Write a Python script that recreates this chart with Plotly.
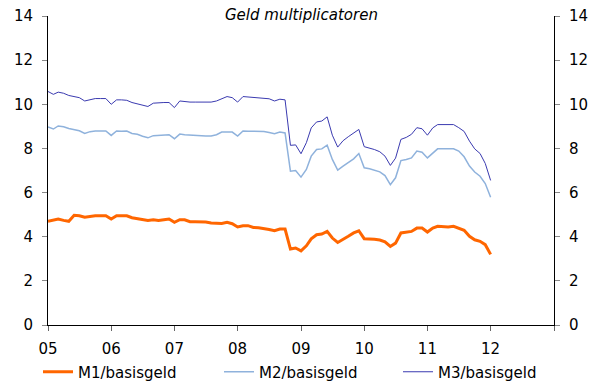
import plotly.graph_objects as go
import pandas as pd

months = pd.date_range("2005-01-01", periods=85, freq="MS")

m1 = [4.70, 4.77, 4.80, 4.74, 4.70, 4.97, 4.95, 4.88, 4.92, 4.95, 4.95, 4.95,
      4.80, 4.95, 4.95, 4.95, 4.86, 4.82, 4.78, 4.74, 4.77, 4.74, 4.77, 4.80,
      4.65, 4.77, 4.77, 4.68, 4.68, 4.67, 4.67, 4.62, 4.60, 4.60, 4.65, 4.59,
      4.44, 4.50, 4.50, 4.42, 4.41, 4.38, 4.33, 4.27, 4.35, 4.35, 3.44, 3.49,
      3.36, 3.59, 3.90, 4.09, 4.12, 4.24, 3.94, 3.74, 3.90, 4.02, 4.17, 4.27,
      3.91, 3.91, 3.88, 3.85, 3.77, 3.56, 3.71, 4.17, 4.20, 4.24, 4.39, 4.39,
      4.21, 4.39, 4.47, 4.45, 4.44, 4.47, 4.39, 4.29, 4.02, 3.86, 3.79, 3.64,
      3.20]

m2 = [8.97, 8.88, 9.02, 8.98, 8.90, 8.85, 8.80, 8.68, 8.76, 8.79, 8.79, 8.79,
      8.59, 8.79, 8.78, 8.79, 8.68, 8.64, 8.55, 8.48, 8.58, 8.60, 8.62, 8.62,
      8.44, 8.65, 8.62, 8.60, 8.60, 8.58, 8.56, 8.56, 8.62, 8.74, 8.75, 8.74,
      8.56, 8.79, 8.78, 8.77, 8.77, 8.77, 8.72, 8.67, 8.74, 8.70, 6.97, 7.00,
      6.70, 7.05, 7.65, 7.95, 7.98, 8.15, 7.50, 7.02, 7.20, 7.35, 7.53, 7.77,
      7.12, 7.08, 7.00, 6.94, 6.77, 6.36, 6.67, 7.45, 7.50, 7.57, 7.88, 7.83,
      7.57, 7.80, 7.98, 7.98, 7.98, 7.98, 7.88, 7.62, 7.20, 6.93, 6.74, 6.41,
      5.79]

m3 = [10.58, 10.45, 10.55, 10.50, 10.40, 10.35, 10.30, 10.15, 10.22, 10.26, 10.26, 10.26,
      10.00, 10.20, 10.20, 10.18, 10.08, 10.02, 9.95, 9.90, 10.05, 10.08, 10.08, 10.08,
      9.85, 10.15, 10.12, 10.10, 10.10, 10.10, 10.10, 10.10, 10.15, 10.25, 10.35, 10.30,
      10.10, 10.35, 10.33, 10.32, 10.30, 10.30, 10.25, 10.15, 10.23, 10.20, 8.14, 8.16,
      7.76, 8.26, 8.93, 9.20, 9.24, 9.43, 8.60, 8.06, 8.35, 8.53, 8.70, 8.86,
      8.08, 8.03, 7.95, 7.85, 7.65, 7.23, 7.56, 8.41, 8.50, 8.64, 8.94, 8.89,
      8.60, 8.93, 9.08, 9.08, 9.08, 9.08, 8.94, 8.77, 8.33, 7.98, 7.77, 7.32,
      6.55]

year_ticks = ["2005-01-01", "2006-01-01", "2007-01-01", "2008-01-01", "2009-01-01",
              "2010-01-01", "2011-01-01", "2012-01-01", "2013-01-01"]
year_labels = ["05", "06", "07", "08", "09", "10", "11", "12", ""]
y_ticks = [0, 2, 4, 6, 8, 10, 12, 14]

font = "DejaVu Sans, Verdana, sans-serif"
W, H = 600, 383

fig = go.Figure()
fig.add_trace(go.Scatter(x=months, y=m1, mode="lines", name="M1/basisgeld",
                         line=dict(color="#FF6600", width=3), legend="legend"))
fig.add_trace(go.Scatter(x=months, y=m2, mode="lines", name="M2/basisgeld",
                         line=dict(color="#8FB2DC", width=1.5), legend="legend2"))
fig.add_trace(go.Scatter(x=months, y=m3, mode="lines", name="M3/basisgeld",
                         line=dict(color="#3A3AB0", width=1), legend="legend3"))
fig.add_trace(go.Scatter(x=[months[0]], y=[0], yaxis="y2", mode="markers",
                         marker=dict(opacity=0), showlegend=False, hoverinfo="skip"))


def leg(xpx):
    return dict(orientation="h", x=xpx / W, xanchor="left", xref="container",
                y=(H - 372) / H, yanchor="middle", yref="container",
                font=dict(size=15), itemwidth=30, bgcolor="rgba(0,0,0,0)")


fig.update_layout(
    width=W, height=H,
    margin=dict(l=48, r=46, t=16, b=58, autoexpand=False),
    paper_bgcolor="white", plot_bgcolor="white",
    font=dict(family=font, size=15, color="black"),
    showlegend=True,
    legend=leg(38), legend2=leg(219), legend3=leg(398),
    xaxis=dict(type="date", range=["2005-01-01", "2013-01-01"],
               tickmode="array", tickvals=year_ticks, ticktext=year_labels,
               showgrid=False, zeroline=False, showline=True, linecolor="black",
               linewidth=1, ticks="outside", ticklen=5, tickcolor="#666",
               ticklabelstandoff=5),
    yaxis=dict(range=[0, 14], tickvals=y_ticks, showgrid=False, zeroline=False,
               showline=True, linecolor="black", linewidth=1,
               ticks="outside", ticklen=5, tickcolor="#888", ticklabelstandoff=6),
    yaxis2=dict(range=[0, 14], tickvals=y_ticks, overlaying="y", side="right",
                showgrid=False, zeroline=False, showline=True, linecolor="black",
                linewidth=1, ticks="outside", ticklen=5, tickcolor="#888",
                ticklabelstandoff=6),
    annotations=[dict(text="<i>Geld multiplicatoren</i>", x=0.5, xref="paper",
                      y=1.0, yref="paper", yanchor="middle", showarrow=False,
                      yshift=1, font=dict(size=15))],
)

fig.write_html("out.html", config={"displayModeBar": False},
               post_script="document.body.style.margin='0';document.body.style.overflow='hidden';")
